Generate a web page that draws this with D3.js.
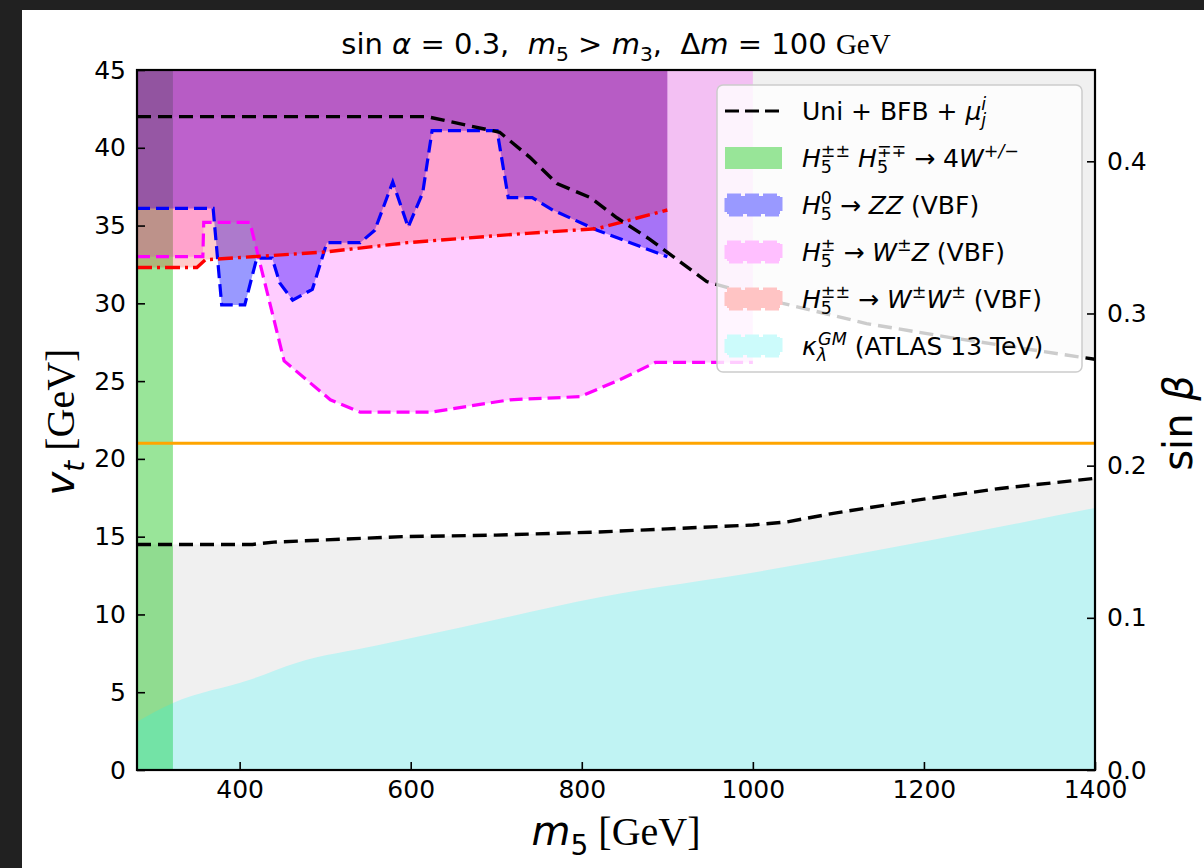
<!DOCTYPE html>
<html>
<head>
<meta charset="utf-8">
<script src="https://cdn.jsdelivr.net/npm/d3@7"></script>
<style>
  html, body { margin: 0; padding: 0; background: #212121; }
  svg { display: block; }
  text { font-family: "DejaVu Sans", sans-serif; white-space: pre; fill: #000; }
</style>
</head>
<body>
<svg id="chart" width="1204" height="868"></svg>
<script>
// ---- data (m5 in GeV, v_t in GeV) ----
var uniUpM = [280, 619, 704, 739, 771, 810, 841, 880, 946, 1035, 1133, 1231, 1328, 1400];
var uniUpV = [42.0, 42.0, 41.0, 39.4, 37.7, 36.8, 35.5, 34.1, 31.4, 30.0, 28.7, 27.8, 27.0, 26.4];

var uniLoM = [280, 415, 440, 590, 700, 820, 900, 1000, 1040, 1094, 1192, 1289, 1400];
var uniLoV = [14.5, 14.5, 14.65, 15.0, 15.1, 15.3, 15.5, 15.75, 15.95, 16.5, 17.35, 18.1, 18.75];

var kappaM = [280, 322, 412, 467, 560, 661, 821, 1017, 1211, 1400];
var kappaV = [3.1, 4.3, 5.8, 6.9, 8.0, 9.2, 11.1, 12.85, 14.8, 16.85];

var zzM = [280, 369, 379, 406, 420, 438, 447, 462, 485, 502, 541, 558, 579, 597, 614, 625, 701, 714, 742, 766, 818, 895, 900];
var zzV = [36.1, 36.1, 29.9, 29.9, 32.9, 32.9, 31.3, 30.2, 30.9, 33.9, 33.9, 34.7, 37.8, 34.9, 37.1, 41.1, 41.1, 36.8, 36.8, 36.0, 34.7, 33.1, 33.0];

var wzM = [280, 357, 358, 412, 452, 506, 541, 623, 716, 798, 845, 886, 1000];
var wzV = [33.0, 33.0, 35.2, 35.2, 26.3, 23.8, 23.0, 23.0, 23.8, 24.0, 25.1, 26.2, 26.2];

var wwM = [280, 350, 360, 500, 596, 736, 818, 900];
var wwV = [32.3, 32.3, 32.8, 33.3, 33.9, 34.5, 34.8, 36.0];

var fourWM = [280, 322];      // H5++H5-- -> 4W excluded band
var vtLine = 21;              // orange horizontal line

var xTicks = [400, 600, 800, 1000, 1200, 1400];
var yTicks = [0, 5, 10, 15, 20, 25, 30, 35, 40, 45];
var sbTicks = [0.0, 0.1, 0.2, 0.3, 0.4];

// ---- setup ----
var svg = d3.select("#chart");
var L = 137, R = 1095, T = 70, B = 770;

svg.append("rect").attr("x", 22).attr("y", 10).attr("width", 1204 - 22).attr("height", 868 - 10).attr("fill", "#fff");

var x = d3.scaleLinear().domain([280, 1400]).range([L, R]);
var y = d3.scaleLinear().domain([0, 45]).range([B, T]);
var ySb = d3.scaleLinear().domain([0, 0.46]).range([B, T]);

function pts(ms, vs) { return ms.map(function(m, i) { return {m: m, v: vs[i]}; }); }

var above = d3.area().x(function(d){ return x(d.m); }).y0(y(45)).y1(function(d){ return y(d.v); });
var below = d3.area().x(function(d){ return x(d.m); }).y0(y(0)).y1(function(d){ return y(d.v); });
var belowSmooth = d3.area().curve(d3.curveMonotoneX).x(function(d){ return x(d.m); }).y0(y(0)).y1(function(d){ return y(d.v); });
var line = d3.line().x(function(d){ return x(d.m); }).y(function(d){ return y(d.v); });

svg.append("clipPath").attr("id", "clip")
  .append("rect").attr("x", L).attr("y", T).attr("width", R - L).attr("height", B - T);

var g = svg.append("g").attr("clip-path", "url(#clip)");

// excluded by unitarity / BFB (grey)
g.append("path").datum(pts(uniUpM, uniUpV)).attr("d", above).attr("fill", "#f0f0f0");
g.append("path").datum(pts(uniLoM, uniLoV)).attr("d", below).attr("fill", "#f0f0f0");

// 4W band
g.append("rect")
  .attr("x", x(fourWM[0])).attr("y", y(45))
  .attr("width", x(fourWM[1]) - x(fourWM[0])).attr("height", y(0) - y(45))
  .attr("fill", "rgb(0,190,0)").attr("fill-opacity", 0.4);

// kappa_lambda
g.append("path").datum(pts(kappaM, kappaV)).attr("d", belowSmooth)
  .attr("fill", "rgb(0,255,255)").attr("fill-opacity", 0.2);

// VBF searches
g.append("path").datum(pts(zzM, zzV)).attr("d", above)
  .attr("fill", "blue").attr("fill-opacity", 0.4);
g.append("path").datum(pts(wzM, wzV)).attr("d", above)
  .attr("fill", "magenta").attr("fill-opacity", 0.2);
g.append("path").datum(pts(wwM, wwV)).attr("d", above)
  .attr("fill", "red").attr("fill-opacity", 0.2);

// boundary lines
g.append("path").datum(pts(wzM, wzV)).attr("d", line)
  .attr("fill", "none").attr("stroke", "magenta").attr("stroke-width", 3.2).attr("stroke-dasharray", "13,6");
g.append("path").datum(pts(zzM, zzV)).attr("d", line)
  .attr("fill", "none").attr("stroke", "blue").attr("stroke-width", 3.2).attr("stroke-dasharray", "13,6");
g.append("path").datum(pts(wwM, wwV)).attr("d", line)
  .attr("fill", "none").attr("stroke", "red").attr("stroke-width", 3.4).attr("stroke-dasharray", "15,5,3,5");
g.append("path").datum(pts(uniUpM, uniUpV)).attr("d", line)
  .attr("fill", "none").attr("stroke", "black").attr("stroke-width", 3.4).attr("stroke-dasharray", "14,7");
g.append("path").datum(pts(uniLoM, uniLoV)).attr("d", line)
  .attr("fill", "none").attr("stroke", "black").attr("stroke-width", 3.4).attr("stroke-dasharray", "14,7");
g.append("line")
  .attr("x1", L).attr("x2", R).attr("y1", y(vtLine)).attr("y2", y(vtLine))
  .attr("stroke", "orange").attr("stroke-width", 3);

// ---- axes ----
var axL = svg.append("g").attr("transform", "translate(" + L + ",0)")
  .call(d3.axisLeft(y).tickValues(yTicks).tickSizeInner(-8).tickSizeOuter(0).tickPadding(11));
var axB = svg.append("g").attr("transform", "translate(0," + B + ")")
  .call(d3.axisBottom(x).tickValues(xTicks).tickFormat(d3.format("d")).tickSizeInner(-8).tickSizeOuter(0).tickPadding(10));
var axR = svg.append("g").attr("transform", "translate(" + R + ",0)")
  .call(d3.axisRight(ySb).tickValues(sbTicks).tickFormat(d3.format(".1f")).tickSizeInner(-8).tickSizeOuter(0).tickPadding(12));

[axL, axB, axR].forEach(function(a) {
  a.select(".domain").remove();
  a.selectAll(".tick line").attr("stroke", "#000").attr("stroke-width", 1.6);
  a.selectAll(".tick text").attr("font-size", 25).attr("font-family", "DejaVu Sans").attr("fill", "#000");
});

svg.append("rect").attr("x", L).attr("y", T).attr("width", R - L).attr("height", B - T)
  .attr("fill", "none").attr("stroke", "#000").attr("stroke-width", 2.2);

// ---- rich text helper (sub / superscripts) ----
function rich(parent, px, py, parts, size, anchor) {
  var t = parent.append("text").attr("x", px).attr("y", py)
    .attr("font-size", size).attr("text-anchor", anchor || "start");
  var off = 0;
  parts.forEach(function(p) {
    var fs = p.s ? size * 0.7 : size;
    var target = p.s === "sub" ? size * 0.25 : (p.s === "sup" ? -size * 0.42 : 0);
    var ts = t.append("tspan").text(p.t).attr("font-size", fs).attr("dy", target - off);
    off = target;
    if (p.i) ts.attr("font-style", "italic");
    if (p.serif) ts.attr("font-family", "Liberation Serif, serif");
    if (p.dx) ts.attr("dx", p.dx);
  });
  if (off !== 0) t.append("tspan").text("").attr("dy", -off);
  return t;
}

// title
rich(svg, (L + R) / 2, 54, [
  {t: "sin "}, {t: "α", i: 1}, {t: " = 0.3,  "},
  {t: "m", i: 1}, {t: "5", s: "sub"}, {t: " > "}, {t: "m", i: 1}, {t: "3", s: "sub"},
  {t: ",  Δ"}, {t: "m", i: 1}, {t: " = 100 "}, {t: "GeV", serif: 1}
], 29, "middle");

// x label
rich(svg, (L + R) / 2, 845, [
  {t: "m", i: 1}, {t: "5", s: "sub"}, {t: " [GeV]", serif: 1}
], 40, "middle");

// y label
rich(svg.append("g").attr("transform", "translate(74,422) rotate(-90)"), 0, 0, [
  {t: "v", i: 1}, {t: "t", s: "sub", i: 1}, {t: " [GeV]", serif: 1}
], 40, "middle");

// right label
rich(svg.append("g").attr("transform", "translate(1192,423) rotate(-90)"), 0, 0, [
  {t: "sin "}, {t: "β", i: 1}
], 40, "middle");

// ---- legend ----
var lg = svg.append("g");
lg.append("rect").attr("x", 717).attr("y", 85).attr("width", 365).attr("height", 287).attr("rx", 6)
  .attr("fill", "#fff").attr("fill-opacity", 0.8).attr("stroke", "#cccccc").attr("stroke-width", 1.5);

var lx0 = 725, lx1 = 782, tx = 802, base0 = 120, step = 47;
var sw = 25 * 0.7 * 0.636;  // width of a script digit

var legendRows = [
  {kind: "line", parts: [{t: "Uni + BFB + "}, {t: "μ", i: 1}, {t: "j", s: "sub", i: 1}, {t: "i", s: "sup", i: 1, dx: -5}]},
  {kind: "patch", color: "#98e598", parts: [
    {t: "H", i: 1}, {t: "5", s: "sub"}, {t: "±±", s: "sup", dx: -sw}, {t: " "},
    {t: "H", i: 1}, {t: "5", s: "sub"}, {t: "∓∓", s: "sup", dx: -sw}, {t: " → 4"},
    {t: "W", i: 1}, {t: "+/−", s: "sup", i: 1}]},
  {kind: "patch", color: "#9999ff", dash: true, parts: [
    {t: "H", i: 1}, {t: "5", s: "sub"}, {t: "0", s: "sup", dx: -sw}, {t: " → "},
    {t: "ZZ", i: 1}, {t: " (VBF)"}]},
  {kind: "patch", color: "#ffbfff", dash: true, parts: [
    {t: "H", i: 1}, {t: "5", s: "sub"}, {t: "±", s: "sup", dx: -sw}, {t: " → "},
    {t: "W", i: 1}, {t: "±", s: "sup"}, {t: "Z", i: 1}, {t: " (VBF)"}]},
  {kind: "patch", color: "#ffc4c4", dash: true, parts: [
    {t: "H", i: 1}, {t: "5", s: "sub"}, {t: "±±", s: "sup", dx: -sw}, {t: " → "},
    {t: "W", i: 1}, {t: "±", s: "sup"}, {t: "W", i: 1}, {t: "±", s: "sup"}, {t: " (VBF)"}]},
  {kind: "patch", color: "#ccfbfb", dash: true, parts: [
    {t: "κ", i: 1}, {t: "λ", s: "sub", i: 1}, {t: "GM", s: "sup", i: 1, dx: -9}, {t: " (ATLAS 13 TeV)"}]}
];

legendRows.forEach(function(r, i) {
  var by = base0 + i * step;
  var cy = by - 9;
  if (r.kind === "line") {
    lg.append("line").attr("x1", lx0).attr("x2", lx1).attr("y1", cy).attr("y2", cy)
      .attr("stroke", "#000").attr("stroke-width", 3.2).attr("stroke-dasharray", "14,6");
  } else {
    var rc = lg.append("rect").attr("x", lx0 + 2).attr("y", cy - 9).attr("width", lx1 - lx0 - 4).attr("height", 18)
      .attr("fill", r.color);
    if (r.dash) {
      rc.attr("stroke", r.color).attr("stroke-width", 5).attr("stroke-dasharray", "14,4");
    } else {
      rc.attr("x", lx0).attr("y", cy - 11).attr("width", lx1 - lx0).attr("height", 22);
    }
  }
  rich(lg, tx, by, r.parts, 25, "start");
});
</script>
</body>
</html>
